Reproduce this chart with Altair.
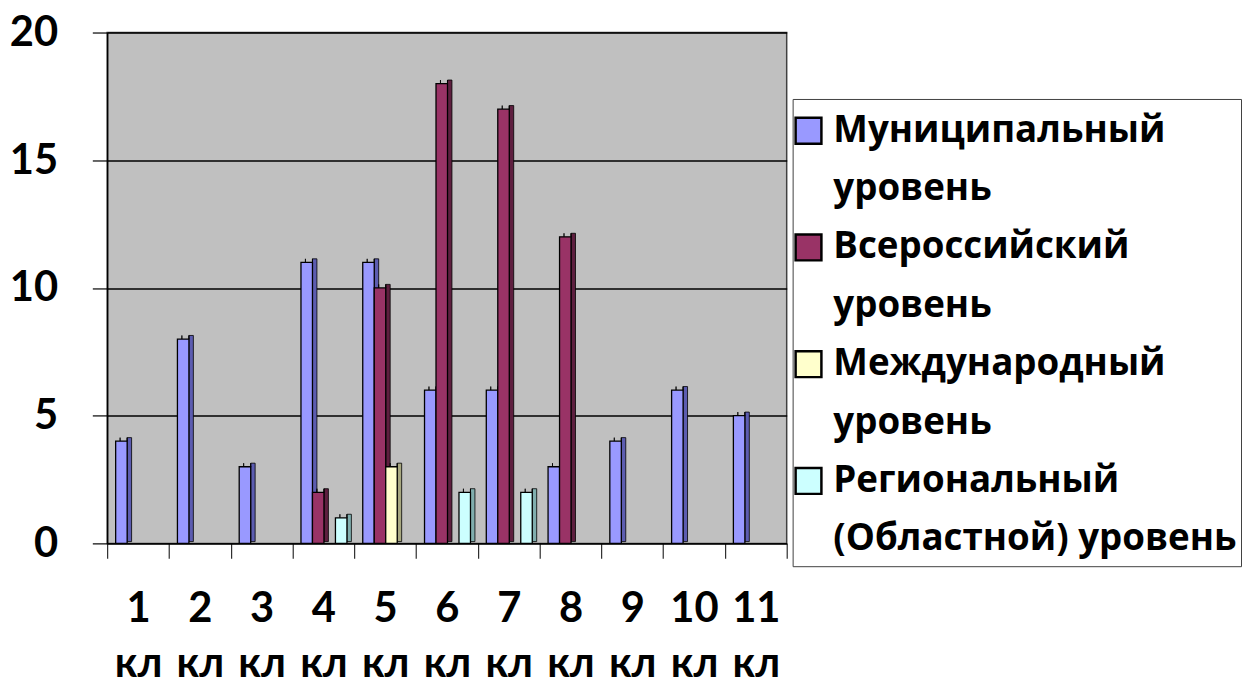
import altair as alt
import pandas as pd

categories = ["1 кл", "2 кл", "3 кл", "4 кл", "5 кл", "6 кл", "7 кл", "8 кл", "9 кл", "10 кл", "11 кл"]
series = ["Муниципальный уровень", "Всероссийский уровень", "Международный уровень",
          "Региональный (Областной) уровень"]
legend_lines = [["Муниципальный", "уровень"], ["Всероссийский", "уровень"],
                ["Международный", "уровень"], ["Региональный", "(Областной) уровень"]]
municipal = [4, 8, 3, 11, 11, 6, 6, 3, 4, 6, 5]
all_russian = [0, 0, 0, 2, 10, 18, 17, 12, 0, 0, 0]
international = [0, 0, 0, 0, 3, 0, 0, 0, 0, 0, 0]
regional = [0, 0, 0, 1, 0, 2, 2, 0, 0, 0, 0]
y_ticks = [0, 5, 10, 15, 20]

colors_front = ["#9999FF", "#993366", "#FFFFCC", "#CCFFFF"]
colors_side = ["#5C5CB0", "#5E1F3F", "#A8A880", "#80AEAE"]
colors_top = ["#7C7CD6", "#7A2952", "#D9D9AA", "#A6D6D6"]

FONT = "Lato"
LFONT = "Open Sans"
# geometry (category units)
PAD, PITCH, W, DX = 0.137, 0.186, 0.186, 0.072
DY = 0.14  # value units

values = [municipal, all_russian, international, regional]
front_rows, side_rows, top_rows = [], [], []
for s, vals in enumerate(values):
    for i, v in enumerate(vals):
        if v <= 0:
            continue
        x0 = i + PAD + s * PITCH
        x1 = x0 + W
        bid = f"{i}-{s}"
        front_rows.append(dict(x0=x0, x1=x1, v=v, zero=0, key=f"{s}f"))
        side_rows.append(dict(x0=x1, x1=x1 + DX, lo=DY * 0.5, hi=v + DY, key=f"{s}s"))
        top_rows += [dict(id=bid, x=x0, lo=v, hi=v, key=f"{s}t"),
                     dict(id=bid, x=x0 + DX, lo=v, hi=v + DY, key=f"{s}t"),
                     dict(id=bid, x=x1, lo=v, hi=v + DY, key=f"{s}t"),
                     dict(id=bid, x=x1 + DX, lo=v + DY, hi=v + DY, key=f"{s}t")]
df_front = pd.DataFrame(front_rows)
df_side = pd.DataFrame(side_rows)
df_top = pd.DataFrame(top_rows)
df_cat = pd.DataFrame({"cat": categories, "zero": 0})

keys = [f"{s}{k}" for s in range(4) for k in "fst"]
rng = []
for s in range(4):
    rng += [colors_front[s], colors_side[s], colors_top[s]]
color_scale = alt.Scale(domain=keys, range=rng)

yscale = alt.Scale(domain=[0, 20], nice=False, zero=True)
yaxis = alt.Axis(values=y_ticks, title=None, grid=True, gridColor="black", gridWidth=1.5,
                 tickSize=15, tickColor="black", tickWidth=1.2, domainColor="black",
                 domainWidth=1.5, labelFont=FONT, labelFontSize=42, labelFontWeight="bold",
                 labelColor="black", labelPadding=35)
xq = alt.Scale(domain=[0, 11], nice=False, zero=False)

band = alt.Chart(df_cat).mark_point(opacity=0).encode(
    x=alt.X("cat:N", sort=categories, scale=alt.Scale(paddingInner=0, paddingOuter=0),
            axis=alt.Axis(title=None, labelAngle=0, tickBand="extent", tickSize=15,
                          tickColor="black", domainColor="black", domainWidth=1.5,
                          labelFont=FONT, labelFontSize=42, labelFontWeight="bold",
                          labelColor="black", labelExpr="split(datum.label, ' ')",
                          labelLineHeight=55, labelPadding=31, labelBaseline="top")),
    y=alt.Y("zero:Q", scale=yscale, axis=yaxis),
)

sides = alt.Chart(df_side).mark_rect(stroke="black", strokeWidth=0.8).encode(
    x=alt.X("x0:Q", scale=xq, axis=None),
    x2="x1:Q",
    y=alt.Y("hi:Q", scale=yscale, axis=yaxis),
    y2="lo:Q",
    color=alt.Color("key:N", scale=color_scale, legend=None),
)

tops = alt.Chart(df_top).mark_area(stroke="black", strokeWidth=0.8, interpolate="linear",
                                   opacity=1).encode(
    x=alt.X("x:Q", scale=xq, axis=None),
    y=alt.Y("hi:Q", scale=yscale, axis=yaxis),
    y2="lo:Q",
    fill=alt.Fill("key:N", scale=color_scale, legend=None),
    detail="id:N",
    order="x:Q",
)

fronts = alt.Chart(df_front).mark_rect(stroke="black", strokeWidth=1.3).encode(
    x=alt.X("x0:Q", scale=xq, axis=None),
    x2="x1:Q",
    y=alt.Y("v:Q", scale=yscale, axis=yaxis),
    y2="zero:Q",
    color=alt.Color("key:N", scale=color_scale, legend=None),
)

left = alt.layer(band, sides, tops, fronts).resolve_scale(x="independent").properties(
    width=685, height=515,
    view=alt.ViewBackground(fill="#C0C0C0", stroke="#404040", strokeWidth=1.5),
)

# legend panel
sym_rows, txt_rows = [], []
for s, lines in enumerate(legend_lines):
    sym_rows.append(dict(row=2 * s, key=f"{s}f"))
    for j, t in enumerate(lines):
        txt_rows.append(dict(row=2 * s + j, text=t))
df_sym = pd.DataFrame(sym_rows)
df_txt = pd.DataFrame(txt_rows)
lscale = alt.Scale(domain=[-0.544, 7.46], reverse=True, nice=False, zero=False)

LW = 452
syms = alt.Chart(df_sym).mark_square(size=676, stroke="black", strokeWidth=2.5, opacity=1).encode(
    x=alt.value(16),
    y=alt.Y("row:Q", scale=lscale, axis=None),
    fill=alt.Color("key:N", scale=color_scale, legend=None),
)
txts = alt.Chart(df_txt).mark_text(align="left", baseline="middle", font=LFONT, fontSize=37,
                                   fontWeight="bold", color="black").encode(
    x=alt.value(41),
    y=alt.Y("row:Q", scale=lscale, axis=None),
    text="text:N",
)
legend = alt.layer(syms, txts).properties(
    width=LW, height=471,
    view=alt.ViewBackground(fill="white", stroke="#404040", strokeWidth=1),
)
spacer = alt.Chart(pd.DataFrame({"z": [0]})).mark_point(opacity=0).encode(
    x=alt.value(0), y=alt.value(0)
).properties(width=LW, height=65, view=alt.ViewBackground(stroke="transparent"))

right = alt.vconcat(spacer, legend, spacing=0)

chart = alt.hconcat(left, right, spacing=0).properties(
    padding={"left": 0, "top": 0, "right": 0, "bottom": -8}, background="white"
)
chart.save("out.html", embed_options={"renderer": "svg", "actions": False})
